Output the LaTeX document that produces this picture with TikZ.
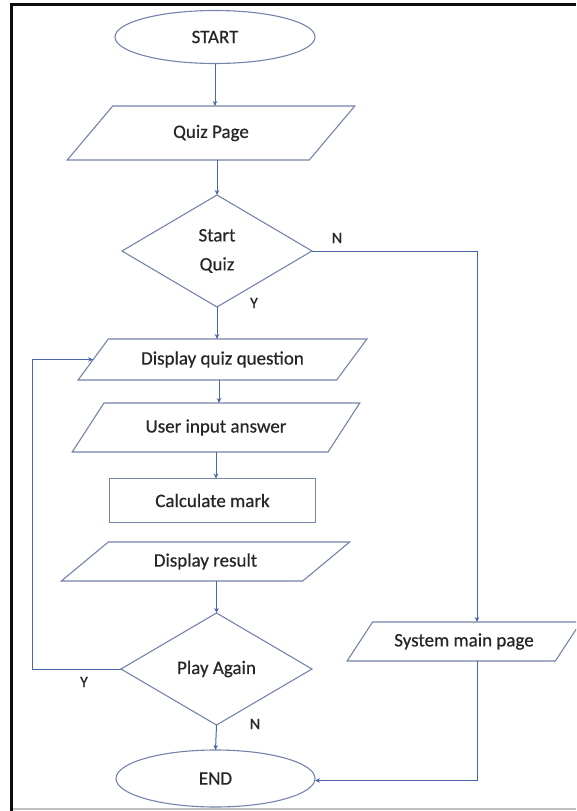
\documentclass[tikz,border=0pt]{standalone}
\usepackage{fontspec}
\setmainfont{Carlito}[FakeBold=0.5]
\newfontfamily\labelfont{Carlito}[FakeBold=0.5]
\usetikzlibrary{shapes.geometric,arrows.meta}

\definecolor{shapeline}{RGB}{118,132,170}
\definecolor{flowline}{RGB}{72,102,170}
\definecolor{inktext}{RGB}{38,38,38}
\definecolor{frameline}{RGB}{12,12,12}
\definecolor{rulegray}{RGB}{192,192,192}

\tikzset{
  box/.style={draw=shapeline, line width=1.1pt, text=inktext, inner sep=0pt, outer sep=0pt,
              font=\fontsize{19}{23}\selectfont},
  term/.style={box, ellipse},
  io/.style={box, trapezium, trapezium stretches=true},
  proc/.style={box, rectangle},
  decide/.style={box, diamond, align=center},
  flow/.style={draw=flowline, line width=1pt, -{Stealth[length=5pt,width=4.5pt]}},
  tag/.style={text=inktext, font=\labelfont\fontsize{16}{19}\selectfont, inner sep=0pt}
}

\begin{document}
\begin{tikzpicture}[x=1pt,y=-1pt]
  \clip (0,0) rectangle (576,811);
  \fill[white] (0,0) rectangle (576,811);

  % page frame
  \draw[draw=frameline, line width=3pt] (11.5,811) -- (11.5,4.5) -- (576,4.5);
  \draw[draw=rulegray, line width=1.5pt] (13,809) -- (576,809);

  % main column
  \node[term, minimum width=200pt, minimum height=53pt] (start) at (215,37) {START};
  \node[io, trapezium left angle=43, trapezium right angle=137,
        minimum width=288pt, minimum height=54pt] (quiz) at (211,133) {Quiz Page};
  \node[decide, minimum width=190pt, minimum height=112pt] (sq) at (217,251)
        {Start\\[6pt]Quiz};
  \node[io, trapezium left angle=37, trapezium right angle=143,
        minimum width=289pt, minimum height=41pt] (dq) at (222.5,359.5) {Display quiz question};
  \node[io, trapezium left angle=39, trapezium right angle=141,
        minimum width=288pt, minimum height=49pt] (ui) at (216,427.5) {User input answer};
  \node[proc, minimum width=206pt, minimum height=44pt] (cm) at (212.5,500.5) {Calculate mark};
  \node[io, trapezium left angle=33, trapezium right angle=147,
        minimum width=289pt, minimum height=39pt] (dr) at (205.5,561.5) {Display result};
  \node[decide, minimum width=191pt, minimum height=112pt] (pa) at (216.5,669) {Play Again};
  \node[term, minimum width=199pt, minimum height=57pt] (end) at (215.5,778.5) {END};

  % side branch
  \node[io, trapezium left angle=40, trapezium right angle=140,
        minimum width=234pt, minimum height=39pt] (smp) at (464,641.5) {System main page};
  \coordinate (rt) at (477,0);
  \coordinate (lt) at (32,0);

  % connectors
  \draw[flow] (start.south) -- (start.south |- quiz.north);
  \draw[flow] (sq.north |- quiz.south) -- (sq.north);
  \draw[flow] (sq.south) -- (sq.south |- dq.north);
  \draw[flow] ([xshift=3pt]ui.north |- dq.south) -- ([xshift=3pt]ui.north);
  \draw[flow] (ui.south) -- (ui.south |- cm.north);
  \draw[flow] (pa.north |- dr.south) -- (pa.north);
  \draw[flow] (pa.south) -- (end.north);

  % Y loop back to the question
  \draw[flow] (pa.west) -- (pa.west -| lt) -- (lt |- dq.west) -- (dq.west);

  % N branch to the system main page and on to END
  \draw[flow] (sq.east) -- (sq.east -| rt) -- (rt |- smp.north);
  \draw[flow] (rt |- smp.south) |- ([yshift=-2pt]end.east);

  % branch labels
  \node[tag] (n1) at (337,238) {N};
  \node[tag] (y1) at (254,303) {Y};
  \node[tag] (y2) at (84,682) {Y};
  \node[tag] (n2) at (255,724) {N};
\end{tikzpicture}
\end{document}
